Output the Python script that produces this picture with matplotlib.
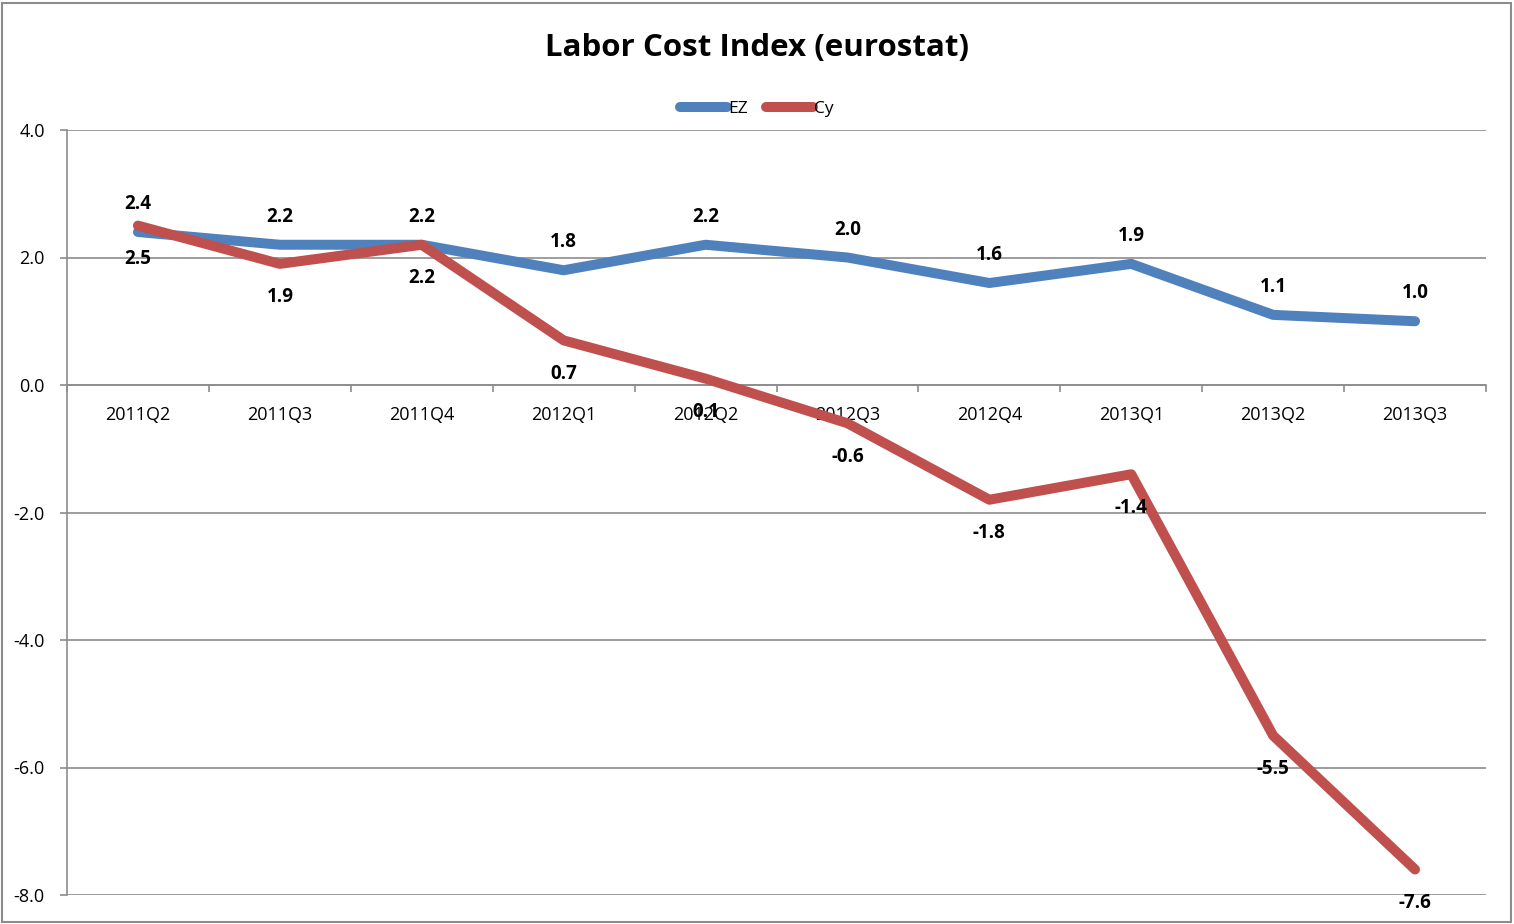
import matplotlib
matplotlib.use("Agg")
import matplotlib.pyplot as plt
import numpy as np

categories = ["2011Q2", "2011Q3", "2011Q4", "2012Q1", "2012Q2", "2012Q3",
              "2012Q4", "2013Q1", "2013Q2", "2013Q3"]
ez = [2.4, 2.2, 2.2, 1.8, 2.2, 2.0, 1.6, 1.9, 1.1, 1.0]
cy = [2.5, 1.9, 2.2, 0.7, 0.1, -0.6, -1.8, -1.4, -5.5, -7.6]
yticks = [4.0, 2.0, 0.0, -2.0, -4.0, -6.0, -8.0]

plt.rcParams['font.family'] = ['Open Sans', 'DejaVu Sans']

W, H = 1514, 924
fig = plt.figure(figsize=(W / 100, H / 100), dpi=100)
ax = fig.add_axes([67 / W, 1 - 895 / H, (1486 - 67) / W, (895 - 130) / H])

x = np.arange(len(categories))
blue = "#4F81BD"
red = "#C0504D"
ax.plot(x, ez, color=blue, lw=7.2, solid_capstyle='round', solid_joinstyle='round', label="EZ", zorder=5)
ax.plot(x, cy, color=red, lw=7.2, solid_capstyle='round', solid_joinstyle='round', label="Cy", zorder=6)

for xi, v in zip(x, ez):
    ax.annotate(f"{v:.1f}", (xi, v), xytext=(0, 20), textcoords='offset points',
                ha='center', va='center', fontsize=13.5, fontweight='bold', zorder=7)
for xi, v in zip(x, cy):
    ax.annotate(f"{v:.1f}", (xi, v), xytext=(0, -24), textcoords='offset points',
                ha='center', va='center', fontsize=13.5, fontweight='bold', zorder=7)

ax.set_xlim(-0.5, len(categories) - 0.5)
ax.set_ylim(-8, 4)
ax.set_yticks(yticks)
ax.set_yticklabels([f"{v:.1f}" for v in yticks], fontsize=13)
ax.yaxis.grid(True, color="#8c8c8c", lw=1.2)
ax.set_axisbelow(True)

# category axis at zero
ax.spines['bottom'].set_position(('data', 0))
ax.spines['bottom'].set_color("#8c8c8c")
ax.spines['bottom'].set_linewidth(1.2)
ax.spines['left'].set_color("#8c8c8c")
ax.spines['left'].set_linewidth(1.2)
ax.spines['top'].set_visible(False)
ax.spines['right'].set_visible(False)
ax.set_xticks(np.arange(len(categories) + 1) - 0.5)
ax.set_xticklabels([])
ax.set_xticks(x, minor=True)
ax.set_xticklabels(categories, minor=True, fontsize=13)
ax.tick_params(axis='x', which='major', direction='out', length=5, color="#8c8c8c", width=1.2)
ax.tick_params(axis='x', which='minor', length=0, pad=15)
ax.tick_params(axis='y', direction='out', length=5, color="#8c8c8c", width=1.2, pad=11)
for lbl in ax.get_xticklabels(minor=True):
    lbl.set_zorder(1)

fig.text(0.5, 1 - 48 / H, "Labor Cost Index (eurostat)", ha='center', va='center',
         fontsize=22.5, fontweight='bold')

leg = fig.legend(loc='center', bbox_to_anchor=(0.5, 1 - 109 / H), ncol=2, frameon=False,
                 fontsize=12.5, handlelength=2.7, handletextpad=0.1, columnspacing=1.0)

# figure border
border = plt.Rectangle((2 / W, 2 / H), (W - 5) / W, (H - 5) / H, transform=fig.transFigure,
                       fill=False, edgecolor="#8c8c8c", lw=1.5)
fig.patches.append(border)

fig.savefig("out.png", dpi=100)
